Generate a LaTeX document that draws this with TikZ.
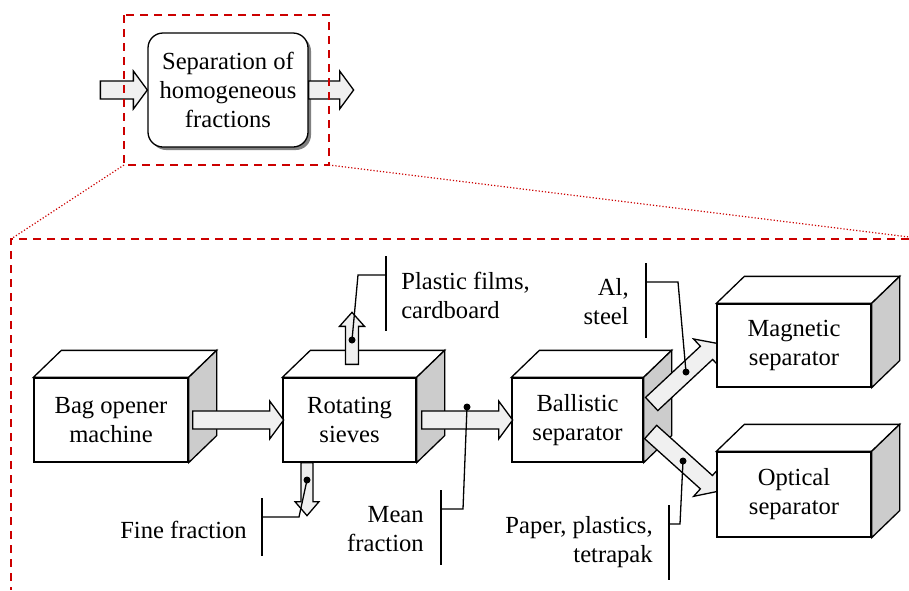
\documentclass[tikz,border=0pt]{standalone}
\usepackage{fontspec}
\setmainfont{Liberation Serif}
\usetikzlibrary{calc,shadows}
\definecolor{dashred}{RGB}{204,0,0}
\definecolor{sidegray}{RGB}{204,204,204}
\definecolor{flowgray}{RGB}{240,240,240}

% top and side faces of a machine box
\newcommand{\boxfaces}[1]{%
  \draw[fill=white] (#1.north west) -- ++(28,-27) -- ([shift={(28,-27)}]#1.north east) -- (#1.north east) -- cycle;
  \draw[fill=sidegray] (#1.north east) -- ++(28,-27) -- ([shift={(28,-27)}]#1.south east) -- (#1.south east) -- cycle;}

% block arrow: start, angle, length, shaft and head half widths
\newcommand{\flowarrow}[5]{%
  \draw[flow, shift={#1}, rotate=#2] (0,-#4) -- (#3-14,-#4) -- (#3-14,-#5) -- (#3,0) -- (#3-14,#5) -- (#3-14,#4) -- (0,#4) -- cycle;}

\begin{document}
\begin{tikzpicture}[x=0.5pt, y=-0.5pt, line width=0.65pt, font=\fontsize{12.3}{14.5}\selectfont,
  machine/.style={draw, fill=white, align=center, inner sep=0pt},
  flow/.style={draw, fill=flowgray, line join=miter},
  zoomline/.style={dashred, line width=1.1pt, dash pattern=on 4pt off 3pt},
  guide/.style={dashred, line width=0.6pt, densely dotted},
  leader/.style={line width=0.65pt}]
\useasboundingbox (0,0) rectangle (909,590);

% overview block
\node[draw, rounded corners=7.5pt, fill=white, align=center, minimum width=80pt, minimum height=57pt, inner sep=0pt,
  drop shadow={shadow xshift=1.5pt, shadow yshift=-1.5pt, opacity=1, fill=gray}] (sep) at (228,90) {Separation of\\homogeneous\\fractions};
\flowarrow{($(sep.west)+(-47,0)$)}{0}{47}{9}{19}
\flowarrow{(sep.east)}{0}{45}{9}{19}
\draw[zoomline] (124,15) rectangle (329,165);
\draw[guide] (124,165) -- (11,239);
\draw[guide] (329,165) -- (909,237);
\draw[zoomline] (909,239) -- (11,239) -- (11,590);

% machines
\node[machine, minimum width=77pt, minimum height=42pt] (bag) at (111,420) {Bag opener\\machine};
\boxfaces{bag}
\node[machine, minimum width=66.5pt, minimum height=42pt] (rot) at (349.5,420) {Rotating\\sieves};
\boxfaces{rot}
\node[machine, minimum width=65.5pt, minimum height=42pt] (ball) at (577.5,420) {Ballistic\\separator};
\boxfaces{ball}

% material flows
\flowarrow{($(bag.east)+(4,0)$)}{0}{91}{9}{19}
\flowarrow{($(rot.east)+(5,0)$)}{0}{91}{9}{19}
\flowarrow{($(rot.north)+(2.5,-13)$)}{90}{52}{6.5}{12.5}
\flowarrow{($(rot.south)+(-42.5,0)$)}{-90}{53}{6}{12}
\flowarrow{($(ball.east)+(8,-16)$)}{43}{89}{9}{19}
\flowarrow{($(ball.east)+(7,12)$)}{-42}{89}{9}{19}

\node[machine, minimum width=77pt, minimum height=41.5pt] (mag) at (794,345.5) {Magnetic\\separator};
\boxfaces{mag}
\node[machine, minimum width=77pt, minimum height=42.5pt] (opt) at (794,494.5) {Optical\\separator};
\boxfaces{opt}

% fraction labels
\node[anchor=west, align=left] (film) at (394,295) {Plastic films,\\cardboard};
\node[anchor=east, align=right] (fine) at (254,530) {Fine fraction};
\node[anchor=east, align=right] (mean) at (431,529) {Mean\\fraction};
\node[anchor=east, align=right] (metal) at (636,302) {Al,\\steel};
\node[anchor=east, align=right] (paper) at (660,542) {Paper, plastics,\\tetrapak};

\coordinate (filmdot) at (352,340);
\coordinate (finedot) at (307,480);
\coordinate (meandot) at (467,407);
\coordinate (metaldot) at (686,372);
\coordinate (paperdot) at (683,461);
\coordinate (filmbar) at (386,275);
\coordinate (finebar) at (262,517);
\coordinate (meanbar) at (441,509);
\coordinate (metalbar) at (646,282);
\coordinate (paperbar) at (669,524);

\draw[leader] (386,256) -- (386,331);
\draw[leader] (filmdot) -- (358,275) -- (filmbar);
\draw[leader] (262,498) -- (262,556);
\draw[leader] (finedot) -- (299,517) -- (finebar);
\draw[leader] (441,490) -- (441,565);
\draw[leader] (meandot) -- (463,509) -- (meanbar);
\draw[leader] (646,263) -- (646,338);
\draw[leader] (metaldot) -- (678,282) -- (metalbar);
\draw[leader] (669,505) -- (669,580);
\draw[leader] (paperdot) -- (680,524) -- (paperbar);
\foreach \d in {filmdot,finedot,meandot,metaldot,paperdot}
  \fill (\d) circle[radius=1.75pt];
\end{tikzpicture}
\end{document}
